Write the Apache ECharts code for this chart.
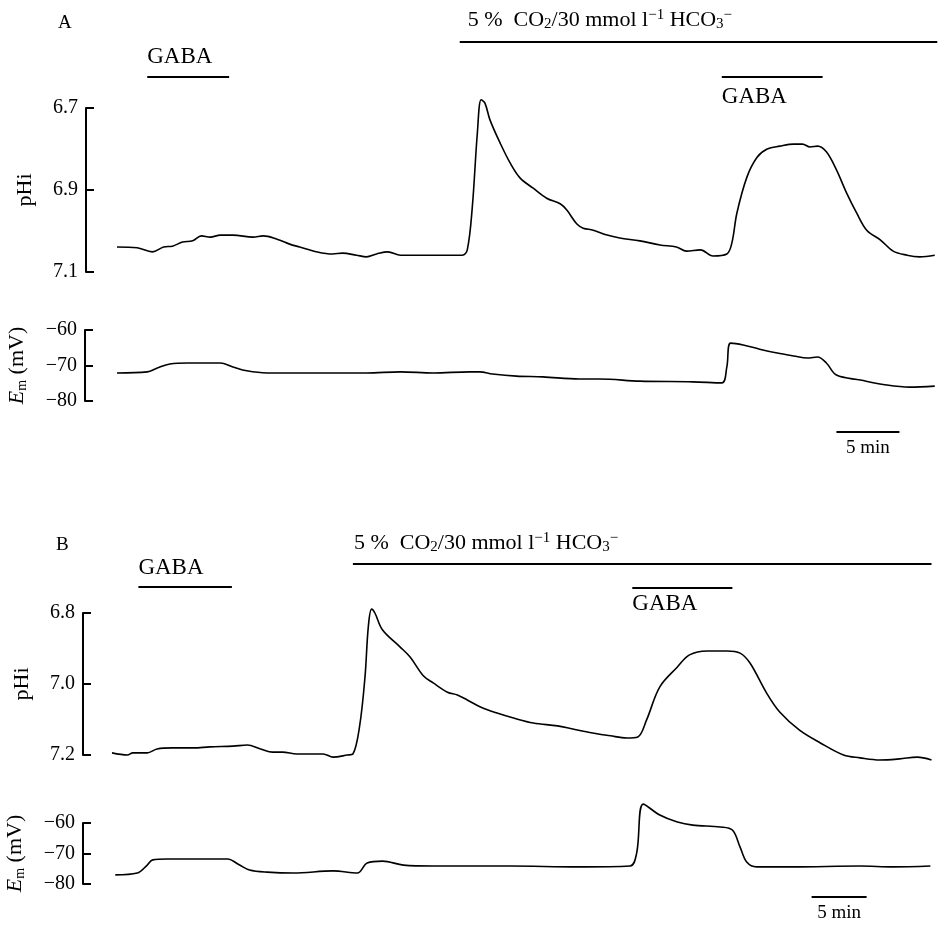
<!DOCTYPE html>
<html><head><meta charset="utf-8">
<script src="https://cdn.jsdelivr.net/npm/echarts@6/dist/echarts.min.js"></script>
<style>html,body{margin:0;padding:0;background:#fff}#c{width:938px;height:926px}</style>
</head><body><div id="c"></div>
<script>
// ---------- DATA (time in minutes from trace start) ----------
const aPhT = [0,1.6,2.8,3.7,4.4,5.2,6.0,6.7,7.4,8.2,9.2,10.8,11.6,12.7,13.7,14.5,15.9,17.1,17.9,19.0,19.8,20.6,21.5,22.5,23.8,25.1,27.4,27.8,28.2,28.6,28.9,29.2,29.6,30.4,31.2,32.0,33.0,34.1,35.2,35.7,36.5,37.0,37.8,38.9,39.9,41.5,43.1,44.4,45.2,46.3,47.3,48.4,48.8,49.2,50.0,50.8,51.6,52.6,53.7,54.4,55.0,55.6,56.3,57.1,57.9,58.7,59.5,60.6,61.6,62.7,63.7,64.9];
const aPhV = [7.039,7.041,7.051,7.039,7.037,7.027,7.024,7.012,7.015,7.010,7.010,7.015,7.012,7.020,7.032,7.039,7.051,7.056,7.054,7.059,7.063,7.056,7.051,7.059,7.059,7.059,7.059,7.046,6.941,6.761,6.680,6.688,6.729,6.785,6.834,6.871,6.895,6.920,6.934,6.949,6.983,6.993,6.998,7.010,7.017,7.024,7.034,7.039,7.049,7.046,7.061,7.056,7.029,6.956,6.868,6.820,6.800,6.793,6.788,6.788,6.795,6.793,6.807,6.851,6.907,6.956,6.998,7.022,7.049,7.059,7.063,7.059];
const aEmT = [0,2.4,3.2,4.2,5.6,8.2,9.2,10.3,11.9,14.5,19.8,22.5,25.1,28.0,28.8,29.8,31.7,33.8,36.7,38.3,41.5,45.7,48.0,48.4,48.7,49.7,51.0,52.4,53.7,54.8,55.6,56.3,57.1,59.0,61.1,62.9,64.9];
const aEmV = [-72.1,-71.8,-70.7,-69.6,-69.3,-69.3,-70.4,-71.5,-72.1,-72.1,-72.1,-71.8,-72.1,-71.8,-71.8,-72.4,-73.0,-73.2,-73.8,-73.8,-74.4,-74.6,-74.9,-70.4,-63.7,-64.2,-65.4,-66.5,-67.3,-67.9,-67.6,-69.3,-72.7,-74.1,-75.5,-76.1,-75.8];
const bPhT = [0,1.4,1.9,3.2,4.1,5.5,7.4,8.9,11.0,12.3,13.5,14.6,15.5,16.8,19.2,20.1,21.4,21.9,22.5,23.0,23.3,23.6,23.9,24.6,26.2,27.1,28.3,29.2,30.5,31.4,32.3,33.5,35.0,36.5,38.3,40.5,41.9,43.7,45.3,46.8,47.8,48.6,49.8,51.4,52.5,54.1,55.9,57.1,58.0,59.5,60.7,62.5,64.4,66.5,68.0,69.8,71.6,73.2,74.5];
const bPhV = [7.194,7.200,7.194,7.194,7.183,7.180,7.180,7.177,7.175,7.172,7.183,7.192,7.192,7.197,7.197,7.206,7.200,7.197,7.121,6.980,6.839,6.789,6.800,6.848,6.896,6.924,6.977,6.997,7.023,7.031,7.045,7.065,7.082,7.096,7.110,7.118,7.127,7.138,7.146,7.152,7.149,7.101,7.008,6.952,6.918,6.907,6.907,6.913,6.941,7.025,7.079,7.130,7.166,7.200,7.208,7.214,7.211,7.206,7.214];
const bEmT = [0.3,2.3,3.2,3.7,5.0,8.0,10.5,11.6,12.5,14.1,16.5,20.1,22.3,23.2,24.6,26.5,29.2,32.5,36.2,42.3,47.1,47.7,48.3,49.8,51.4,52.8,55.3,56.4,57.1,57.7,58.6,61.9,68.0,71.0,74.4];
const bEmV = [-77.0,-76.4,-73.8,-72.1,-71.8,-71.8,-71.8,-73.8,-75.4,-76.1,-76.4,-75.7,-76.4,-73.1,-72.5,-73.8,-74.1,-74.1,-74.1,-74.4,-74.1,-69.8,-53.8,-57.4,-59.7,-60.7,-61.3,-62.3,-67.9,-72.8,-74.4,-74.4,-74.1,-74.4,-74.1];

// tick labels / axis ranges
const phTicksA = [6.7, 6.9, 7.1];
const phTicksB = [6.8, 7.0, 7.2];
const emTicks = [-80, -70, -60];

// treatment periods (minutes)
const gabaA1 = [2.4, 8.9];
const co2A = [27.2, 65.1];
const gabaA2 = [48.0, 56.0];
const scaleA = [57.1, 62.1];
const gabaB1 = [2.4, 10.9];
const co2B = [21.9, 74.5];
const gabaB2 = [47.3, 56.4];
const scaleB = [63.6, 68.6];

// ---------- CHART ----------
const FONT = 'Liberation Serif';
const pairs = (t, v) => t.map((x, i) => [x, v[i]]);
const chart = echarts.init(document.getElementById('c'), null, {renderer: 'canvas'});

function yAx(grid, ticks, inverse, offset, nameObj, fmt) {
  return {
    gridIndex: grid, type: 'value', inverse: inverse,
    min: Math.min(ticks[0], ticks[2]),
    max: Math.max(ticks[0], ticks[2]),
    interval: Math.abs(ticks[1] - ticks[0]),
    offset: offset,
    axisLine: {show: true, onZero: false, lineStyle: {color: '#000', width: 2}},
    axisTick: {show: true, inside: true, length: 8, lineStyle: {color: '#000', width: 2}},
    axisLabel: {color: '#000', fontFamily: FONT, fontSize: 20, margin: 8, formatter: fmt},
    splitLine: {show: false},
    name: nameObj.text, nameLocation: 'middle', nameRotate: 90, nameGap: nameObj.gap,
    nameTextStyle: Object.assign({color: '#000', fontFamily: FONT, fontSize: 22}, nameObj.style || {})
  };
}
const emName = {
  text: '{i|E}{s|m}{n| (mV)}', gap: 56,
  style: {rich: {
    i: {fontFamily: FONT, fontSize: 22, fontStyle: 'italic', color: '#000'},
    s: {fontFamily: FONT, fontSize: 14, color: '#000', padding: [10, 0, 0, 0]},
    n: {fontFamily: FONT, fontSize: 22, color: '#000'}
  }}
};
const phFmt = v => v.toFixed(1);
const emFmt = v => '\u2212' + Math.abs(v);

const lineS = (i, data) => ({
  type: 'line', xAxisIndex: i, yAxisIndex: i, data: data, showSymbol: false,
  clip: false, smooth: 0.35,
  lineStyle: {color: '#000', width: 1.6}, silent: true, animation: false
});

const gridBase = {outerBoundsMode: 'none', containLabel: false};
chart.setOption({
  animation: false,
  backgroundColor: '#fff',
  grid: [
    Object.assign({left: 117, width: 819, top: 108, height: 164}, gridBase),
    Object.assign({left: 117, width: 819, top: 330, height: 71}, gridBase),
    Object.assign({left: 112, width: 825, top: 613, height: 142}, gridBase),
    Object.assign({left: 112, width: 825, top: 823, height: 61}, gridBase)
  ],
  xAxis: [
    {gridIndex: 0, type: 'value', min: 0, max: 65, show: false},
    {gridIndex: 1, type: 'value', min: 0, max: 65, show: false},
    {gridIndex: 2, type: 'value', min: 0, max: 75, show: false},
    {gridIndex: 3, type: 'value', min: 0, max: 75, show: false}
  ],
  yAxis: [
    yAx(0, phTicksA, true, 31, {text: 'pHi', gap: 50}, phFmt),
    yAx(1, emTicks, false, 32, emName, emFmt),
    yAx(2, phTicksB, true, 29, {text: 'pHi', gap: 50}, phFmt),
    yAx(3, emTicks, false, 29, emName, emFmt)
  ],
  series: [
    lineS(0, pairs(aPhT, aPhV)),
    lineS(1, pairs(aEmT, aEmV)),
    lineS(2, pairs(bPhT, bPhV)),
    lineS(3, pairs(bEmT, bEmV))
  ]
});

// ---------- annotations placed through the axes' scales ----------
const grids = chart.getOption().grid;
function px(gi, t) { return chart.convertToPixel({xAxisIndex: gi}, t); }
function hbar(gi, range, y) {
  return {type: 'line', silent: true,
    shape: {x1: px(gi, range[0]), y1: y, x2: px(gi, range[1]), y2: y},
    style: {stroke: '#000', lineWidth: 2}};
}
function txt(x, y, text, opts) {
  return {type: 'text', silent: true, x: x, y: y,
    style: Object.assign({text: text, fill: '#000', font: '21px ' + FONT, textAlign: 'left', textVerticalAlign: 'middle'}, opts || {})};
}
const co2Rich = {
  n: {fontFamily: FONT, fontSize: 22, fill: '#000'},
  sb: {fontFamily: FONT, fontSize: 15, fill: '#000', padding: [9, 0, 0, 0]},
  sp: {fontFamily: FONT, fontSize: 15, fill: '#000', padding: [0, 0, 10, 0]}
};
const co2Text = '{n|5 %  CO}{sb|2}{n|/30 mmol l}{sp|\u22121}{n| HCO}{sb|3}{sp|\u2212}';
function richTxt(x, y) {
  return {type: 'text', silent: true, x: x, y: y,
    style: {text: co2Text, rich: co2Rich, textVerticalAlign: 'middle', fill: '#000'}};
}
const gabaFont = '23px ' + FONT;

const g = [];
// Panel A
const topA = grids[0].top;
g.push(txt(58, 23, 'A', {font: '19px ' + FONT}));
g.push(hbar(0, gabaA1, topA - 31));
g.push(txt(px(0, gabaA1[0]), topA - 51, 'GABA', {font: gabaFont}));
g.push(hbar(0, co2A, topA - 66));
g.push(richTxt(px(0, co2A[0]) + 8, topA - 88));
g.push(hbar(0, gabaA2, topA - 31));
g.push(txt(px(0, gabaA2[0]), topA - 11, 'GABA', {font: gabaFont}));
const botA = grids[1].top + grids[1].height;
g.push(hbar(1, scaleA, botA + 31));
g.push(txt((px(1, scaleA[0]) + px(1, scaleA[1])) / 2, botA + 47, '5 min', {font: '19px ' + FONT, textAlign: 'center'}));
// Panel B
const topB = grids[2].top;
g.push(txt(56, 545, 'B', {font: '19px ' + FONT}));
g.push(hbar(2, gabaB1, topB - 26));
g.push(txt(px(2, gabaB1[0]), topB - 45, 'GABA', {font: gabaFont}));
g.push(hbar(2, co2B, topB - 49));
g.push(richTxt(px(2, co2B[0]) + 1, topB - 70));
g.push(hbar(2, gabaB2, topB - 25));
g.push(txt(px(2, gabaB2[0]), topB - 9, 'GABA', {font: gabaFont}));
const botB = grids[3].top + grids[3].height;
g.push(hbar(3, scaleB, botB + 13));
g.push(txt((px(3, scaleB[0]) + px(3, scaleB[1])) / 2, botB + 29, '5 min', {font: '19px ' + FONT, textAlign: 'center'}));

chart.setOption({graphic: g});
</script>
</body></html>
